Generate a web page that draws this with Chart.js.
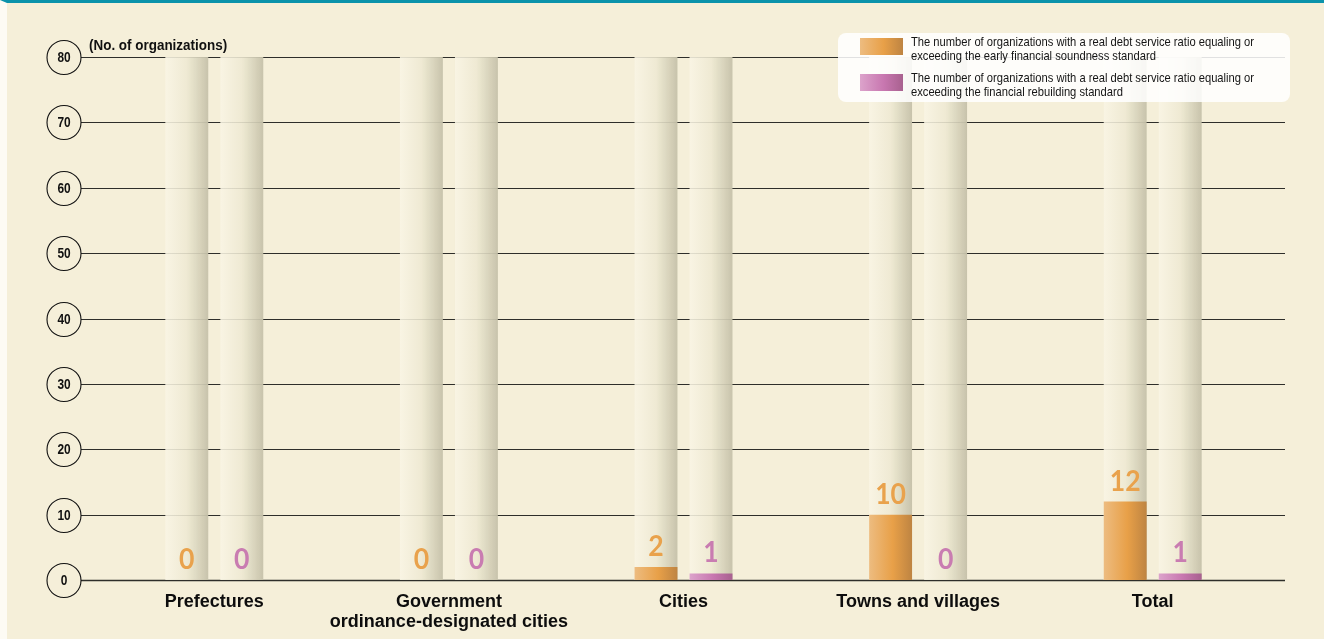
<!DOCTYPE html>
<html lang="en">
<head>
    <meta charset="UTF-8">
    <title>Real debt service ratio</title>
    <script src="https://cdn.jsdelivr.net/npm/chart.js"></script>
    <style>
        body {
            margin: 0;
            background-color: #f5efd9;
        }
        .page {
            position: relative;
            width: 1324px;
            height: 639px;
            border-top: 3px solid #0b93ab;
            box-sizing: border-box;
            border-left: 7px solid #fdfbf4;
        }
        .chart-box {
            position: absolute;
            left: -7px;
            top: -3px;
            width: 1324px;
            height: 639px;
        }
    </style>
</head>
<body>
    <div class="page">
        <div class="chart-box"><canvas id="debt-chart"></canvas></div>
    </div>

    <script>
        // Organizations at or above each standard
        const categories = ['Prefectures', ['Government', 'ordinance-designated cities'], 'Cities', 'Towns and villages', 'Total'];
        const earlySoundness = [0, 0, 2, 10, 12];
        const rebuilding = [0, 0, 1, 0, 1];
        const yTicks = [0, 10, 20, 30, 40, 50, 60, 70, 80];
        const legendLines = [
            ['The number of organizations with a real debt service ratio equaling or', 'exceeding the early financial soundness standard'],
            ['The number of organizations with a real debt service ratio equaling or', 'exceeding the financial rebuilding standard']
        ];

        const orangeStops = ['#edbc80', '#e8a048', '#be8442'];
        const pinkStops = ['#dca3cb', '#c877b0', '#a8618f'];
        const sans = '"Liberation Sans", Arial, sans-serif';

        function hGradient(ctx, x0, x1, stops) {
            const g = ctx.createLinearGradient(x0, 0, x1, 0);
            g.addColorStop(0, stops[0]);
            g.addColorStop(0.55, stops[1]);
            g.addColorStop(1, stops[2]);
            return g;
        }

        // squeezed text, left or centre anchored at (x, y)
        function narrowText(ctx, text, x, y, squeeze) {
            ctx.save();
            ctx.translate(x, y);
            ctx.scale(squeeze, 1);
            ctx.fillText(text, 0, 0);
            ctx.restore();
        }

        // grid lines, circled y labels, background tubes and bar gradients
        const decorPlugin = {
            id: 'decor',
            beforeDatasetsDraw(chart) {
                const ctx = chart.ctx;
                const y = chart.scales.y;
                ctx.save();
                yTicks.forEach(v => {
                    const py = Math.round(y.getPixelForValue(v)) + 0.5;
                    ctx.strokeStyle = '#2e2e2a';
                    ctx.lineWidth = v === 0 ? 1.6 : 1.2;
                    ctx.beginPath();
                    ctx.moveTo(81, py);
                    ctx.lineTo(1285, py);
                    ctx.stroke();

                    ctx.lineWidth = 1.1;
                    ctx.strokeStyle = '#111';
                    ctx.beginPath();
                    ctx.arc(64, py, 17, 0, Math.PI * 2);
                    ctx.stroke();
                    ctx.fillStyle = '#111';
                    ctx.font = 'bold 14px ' + sans;
                    ctx.textAlign = 'center';
                    ctx.textBaseline = 'middle';
                    narrowText(ctx, String(v), 64, py + 1, 0.85);
                });

                ctx.font = 'bold 14px ' + sans;
                ctx.textAlign = 'left';
                ctx.textBaseline = 'middle';
                narrowText(ctx, '(No. of organizations)', 89, 46, 0.96);

                const top = y.getPixelForValue(80);
                const bottom = y.getPixelForValue(0);
                chart.data.datasets.forEach((ds, di) => {
                    const stops = di === 0 ? orangeStops : pinkStops;
                    chart.getDatasetMeta(di).data.forEach(bar => {
                        const x0 = bar.x - bar.width / 2;
                        const x1 = bar.x + bar.width / 2;
                        const tube = ctx.createLinearGradient(x0, 0, x1, 0);
                        tube.addColorStop(0, 'rgba(249,245,228,0.88)');
                        tube.addColorStop(0.5, 'rgba(238,233,210,0.88)');
                        tube.addColorStop(1, 'rgba(196,192,168,0.94)');
                        ctx.fillStyle = tube;
                        ctx.fillRect(x0, top, bar.width, bottom - top);
                        bar.options = Object.assign({}, bar.options, { backgroundColor: hGradient(ctx, x0, x1, stops) });
                    });
                });
                ctx.restore();
            },
            afterDatasetsDraw(chart) {
                const ctx = chart.ctx;
                ctx.save();
                ctx.font = 'bold 28px Lato, "Open Sans", sans-serif';
                ctx.textAlign = 'center';
                ctx.textBaseline = 'middle';
                chart.data.datasets.forEach((ds, di) => {
                    ctx.fillStyle = di === 0 ? '#e9a24c' : '#c97cb1';
                    chart.getDatasetMeta(di).data.forEach((bar, i) => {
                        narrowText(ctx, String(ds.data[i]), bar.x, bar.y - 20, 0.95);
                    });
                });

                // legend panel
                ctx.fillStyle = 'rgba(255,255,255,0.86)';
                ctx.beginPath();
                ctx.roundRect(838, 33, 452, 69, 8);
                ctx.fill();
                [38, 74].forEach((ry, k) => {
                    ctx.fillStyle = hGradient(ctx, 860, 903, k === 0 ? orangeStops : pinkStops);
                    ctx.fillRect(860, ry, 43, 17);
                    ctx.fillStyle = '#151515';
                    ctx.font = '13px ' + sans;
                    ctx.textAlign = 'left';
                    ctx.textBaseline = 'middle';
                    narrowText(ctx, legendLines[k][0], 911, ry + 4, 0.86);
                    narrowText(ctx, legendLines[k][1], 911, ry + 18, 0.86);
                });
                ctx.restore();
            }
        };

        const ctx = document.getElementById('debt-chart').getContext('2d');
        new Chart(ctx, {
            type: 'bar',
            data: {
                labels: categories,
                datasets: [
                    { label: 'Early financial soundness standard', data: earlySoundness, backgroundColor: orangeStops[1] },
                    { label: 'Financial rebuilding standard', data: rebuilding, backgroundColor: pinkStops[1] }
                ]
            },
            options: {
                responsive: true,
                maintainAspectRatio: false,
                animation: false,
                categoryPercentage: 0.469,
                barPercentage: 0.78,
                layout: { padding: { left: 97, right: 54, top: 57, bottom: 0 } },
                plugins: {
                    legend: { display: false },
                    tooltip: { enabled: false }
                },
                scales: {
                    x: {
                        grid: { display: false, drawTicks: false },
                        border: { display: false },
                        ticks: {
                            color: '#0d0d0d',
                            font: { family: sans, size: 18, weight: 'bold', lineHeight: 1.1 },
                            padding: 12,
                            maxRotation: 0,
                            autoSkip: false
                        },
                        afterFit(scale) { scale.height = 59; }
                    },
                    y: {
                        display: false,
                        min: 0,
                        max: 80
                    }
                }
            },
            plugins: [decorPlugin]
        });
    </script>
</body>
</html>
